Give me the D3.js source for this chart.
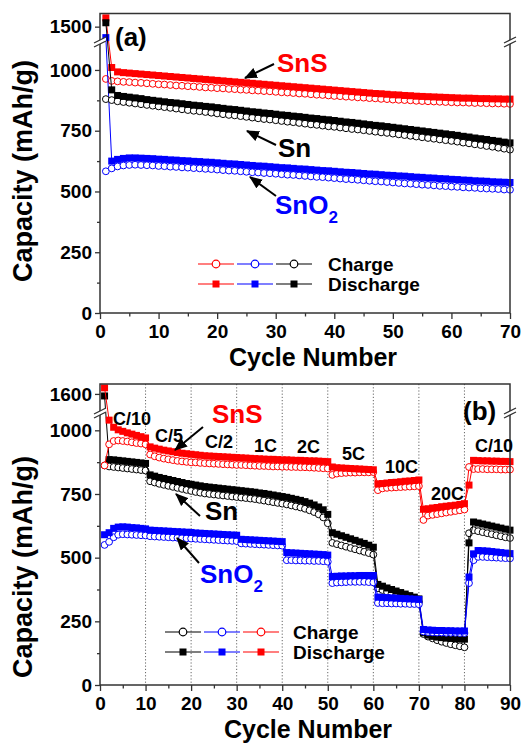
<!DOCTYPE html>
<html>
<head>
<meta charset="utf-8">
<script src="https://cdn.jsdelivr.net/npm/d3@7"></script>
<style>
body { margin: 0; background: #fff; }
text { font-family: "Liberation Sans", Arial, sans-serif; font-weight: bold; }
</style>
</head>
<body>
<svg id="fig" width="527" height="745"></svg>
<script>
// ---- panel (a): cycling at constant rate, cycle n = index + 1 ----
const aSnSDis = [1536, 1010, 992, 989, 987, 985, 983, 981, 979, 977,
  975, 973, 971, 969, 967, 965, 963, 961, 959, 957,
  955, 953, 951, 949, 947, 945, 943, 941, 939, 937,
  935, 933, 931, 929, 927, 925, 923, 921, 919, 917,
  915, 913, 911, 909, 907, 905, 903, 902, 900, 898,
  897, 895, 894, 892, 891, 890, 889, 888, 887, 886,
  885, 884, 884, 883, 882, 882, 881, 881, 880, 880];
const aSnSCh = [963, 955, 953, 951, 950, 948, 947, 945, 943, 941,
  940, 938, 936, 935, 933, 932, 930, 928, 927, 925,
  924, 922, 921, 919, 918, 916, 915, 913, 912, 910,
  908, 907, 905, 903, 902, 900, 898, 897, 895, 893,
  892, 890, 889, 887, 886, 884, 883, 881, 880, 878,
  877, 876, 875, 873, 872, 871, 870, 869, 868, 867,
  866, 866, 865, 864, 864, 863, 862, 862, 861, 860];
const aSnDis = [1516, 918, 895, 891, 888, 885, 882, 878, 875, 872,
  869, 866, 864, 861, 858, 855, 853, 850, 848, 845,
  842, 839, 837, 834, 831, 828, 826, 823, 821, 818,
  815, 813, 810, 808, 805, 802, 800, 797, 795, 792,
  789, 786, 784, 781, 778, 775, 772, 770, 767, 764,
  761, 758, 755, 752, 749, 746, 743, 740, 737, 734,
  731, 727, 724, 720, 717, 714, 710, 707, 703, 700];
const aSnCh = [880, 876, 871, 868, 865, 862, 859, 856, 853, 850,
  847, 844, 841, 838, 835, 832, 830, 827, 824, 821,
  818, 815, 813, 810, 807, 804, 801, 798, 796, 793,
  790, 787, 785, 782, 779, 776, 774, 771, 768, 766,
  763, 760, 757, 755, 752, 749, 746, 743, 741, 738,
  735, 732, 729, 726, 723, 720, 717, 714, 711, 708,
  705, 701, 698, 694, 691, 687, 684, 680, 676, 672];
const aSnO2Dis = [1455, 625, 632, 636, 638, 638, 637, 636, 635, 633,
  632, 630, 629, 627, 626, 624, 623, 621, 620, 618,
  616, 614, 613, 611, 609, 607, 605, 604, 602, 600,
  598, 597, 595, 593, 592, 590, 588, 586, 585, 583,
  581, 579, 578, 576, 574, 572, 571, 569, 567, 566,
  564, 563, 561, 559, 558, 556, 555, 553, 552, 550,
  549, 547, 546, 544, 543, 542, 540, 539, 538, 537];
const aSnO2Ch = [583, 595, 603, 607, 609, 610, 609, 608, 607, 605,
  604, 602, 601, 599, 598, 596, 595, 593, 592, 590,
  588, 586, 585, 583, 581, 579, 578, 576, 575, 573,
  571, 569, 568, 566, 564, 562, 560, 559, 557, 555,
  553, 551, 550, 548, 546, 544, 542, 541, 539, 537,
  535, 533, 532, 530, 528, 527, 525, 523, 522, 520,
  519, 517, 516, 515, 513, 512, 511, 510, 508, 507];

// ---- panel (b): rate capability, 10 cycles per rate ----
const bSnSDis = [1624, 1040, 1012, 1002, 996, 990, 985, 980, 975, 970,
  935, 930, 926, 922, 919, 916, 913, 910, 908, 906,
  904, 902, 900, 899, 898, 897, 896, 895, 894, 893,
  892, 891, 890, 889, 888, 887, 886, 886, 885, 884,
  884, 883, 882, 882, 881, 880, 880, 879, 878, 877,
  856, 853, 852, 851, 850, 849, 848, 847, 846, 845,
  790, 791, 793, 795, 796, 798, 800, 801, 803, 805,
  690, 692, 695, 697, 700, 702, 704, 706, 709, 712,
  785, 882, 881, 880, 880, 879, 879, 878, 878, 877];
const bSnSCh = [862, 945, 958, 960, 958, 956, 953, 950, 948, 945,
  905, 898, 893, 889, 886, 883, 880, 878, 876, 874,
  874, 872, 871, 870, 869, 868, 867, 866, 865, 864,
  864, 863, 862, 861, 860, 860, 859, 858, 858, 857,
  857, 856, 856, 855, 855, 854, 853, 852, 851, 850,
  825, 830, 832, 833, 834, 834, 835, 835, 835, 836,
  765, 772, 774, 775, 776, 777, 778, 779, 780, 781,
  648, 665, 668, 671, 674, 677, 680, 683, 686, 689,
  856, 848, 848, 848, 847, 847, 847, 846, 846, 846];
const bSnDis = [1592, 885, 884, 882, 880, 878, 876, 874, 872, 870,
  825, 820, 815, 811, 807, 803, 799, 795, 791, 788,
  785, 782, 779, 777, 775, 773, 771, 769, 767, 765,
  763, 761, 759, 757, 754, 752, 749, 746, 743, 740,
  737, 733, 729, 725, 720, 714, 707, 699, 688, 670,
  598, 592, 586, 580, 574, 568, 562, 556, 549, 541,
  395, 388, 381, 375, 369, 363, 357, 351, 345, 338,
  205, 196, 191, 188, 186, 184, 183, 182, 181, 180,
  558, 640, 636, 632, 628, 624, 620, 616, 612, 608];
const bSnCh = [862, 858, 856, 854, 852, 850, 848, 846, 844, 842,
  800, 795, 790, 786, 782, 778, 774, 770, 766, 762,
  758, 755, 752, 750, 748, 746, 744, 742, 740, 738,
  736, 734, 732, 730, 727, 724, 721, 718, 715, 712,
  709, 705, 701, 697, 692, 686, 679, 670, 658, 635,
  558, 553, 548, 543, 538, 533, 528, 523, 518, 512,
  380, 373, 366, 360, 354, 348, 342, 336, 330, 325,
  200, 190, 183, 176, 170, 165, 160, 156, 152, 148,
  596, 608, 604, 600, 596, 592, 588, 584, 580, 577];
const bSnO2Dis = [590, 598, 615, 620, 621, 620, 618, 617, 615, 613,
  608, 607, 606, 605, 604, 603, 602, 601, 600, 599,
  597, 596, 595, 594, 593, 592, 591, 590, 589, 588,
  572, 571, 570, 569, 568, 567, 566, 565, 564, 563,
  520, 519, 518, 517, 516, 515, 514, 513, 512, 510,
  426, 427, 428, 428, 429, 429, 430, 430, 430, 430,
  345, 344, 343, 342, 341, 340, 339, 338, 337, 336,
  218, 216, 215, 214, 214, 213, 213, 212, 212, 212,
  424, 515, 528, 527, 526, 524, 522, 520, 518, 516];
const bSnO2Ch = [550, 562, 580, 590, 592, 591, 590, 589, 588, 587,
  584, 583, 582, 581, 580, 579, 578, 577, 576, 575,
  574, 573, 572, 571, 570, 569, 568, 567, 566, 565,
  556, 555, 554, 553, 552, 551, 550, 549, 548, 547,
  490, 490, 489, 489, 488, 488, 487, 487, 486, 484,
  400, 402, 403, 404, 405, 405, 405, 405, 404, 403,
  322, 321, 321, 320, 320, 319, 319, 318, 318, 317,
  210, 208, 207, 206, 206, 205, 205, 205, 204, 204,
  400, 490, 503, 503, 502, 501, 500, 499, 498, 497];

const rateLabels = ["C/10", "C/5", "C/2", "1C", "2C", "5C", "10C", "20C", "C/10"];
const yTicks = [0, 250, 500, 750, 1000];
const yMinor = [125, 375, 625, 875];

const red = "#ff0000", blue = "#0000ff", black = "#000000";
const svg = d3.select("#fig");

svg.append("defs").append("marker")
  .attr("id", "arrow").attr("markerUnits", "userSpaceOnUse")
  .attr("viewBox", "0 0 12 10").attr("refX", 11).attr("refY", 5)
  .attr("markerWidth", 13).attr("markerHeight", 11).attr("orient", "auto")
  .append("path").attr("d", "M0,0 L12,5 L0,10 z").attr("fill", "#000");

function drawPanel(p) {
  let g = svg.append("g");
  let x = d3.scaleLinear().domain([0, p.xmax]).range([100, 510]);
  let yLo = d3.scaleLinear().domain([0, p.loMax]).range([p.bottom, p.brk]);
  let yHi = d3.scaleLinear().domain(p.hiDomain).range([p.brk, p.top]);
  let y = v => v > p.loMax ? yHi(v) : yLo(v);

  // dotted rate separators
  if (p.grid) {
    g.selectAll(".grid").data(p.grid).enter().append("line")
      .attr("x1", d => x(d)).attr("x2", d => x(d))
      .attr("y1", p.top).attr("y2", p.bottom)
      .attr("stroke", "#666").attr("stroke-width", 1).attr("stroke-dasharray", "1.2,2");
  }

  let line = d3.line().x((d, i) => x(i + 1)).y(d => y(d));
  for (let s of p.series) {
    g.append("path").attr("d", line(s.ch)).attr("fill", "none")
      .attr("stroke", s.color).attr("stroke-width", 1);
    g.selectAll(null).data(s.ch).enter().append("circle")
      .attr("cx", (d, i) => x(i + 1)).attr("cy", d => y(d)).attr("r", 3.4)
      .attr("fill", "#fff").attr("stroke", s.color).attr("stroke-width", 1);
    g.append("path").attr("d", line(s.dis)).attr("fill", "none")
      .attr("stroke", s.color).attr("stroke-width", 1);
    g.selectAll(null).data(s.dis).enter().append("rect")
      .attr("x", (d, i) => x(i + 1) - 3.5).attr("y", d => y(d) - 3.5)
      .attr("width", 7).attr("height", 7).attr("fill", s.color);
  }

  // frame
  g.append("rect").attr("x", 100).attr("y", p.top).attr("width", 410)
    .attr("height", p.bottom - p.top).attr("fill", "none")
    .attr("stroke", "#333").attr("stroke-width", 1.5);

  // axis break marks
  for (let ax of [100, 510]) {
    g.append("path")
      .attr("d", `M${ax - 6},${p.brk + 1} L${ax + 6},${p.brk - 5} L${ax + 6},${p.brk - 1} L${ax - 6},${p.brk + 5} Z`)
      .attr("fill", "#fff");
    g.append("path")
      .attr("d", `M${ax - 6},${p.brk + 1} L${ax + 6},${p.brk - 5} M${ax - 6},${p.brk + 5} L${ax + 6},${p.brk - 1}`)
      .attr("stroke", "#333").attr("stroke-width", 1.3);
  }

  // axes
  let fmt = d3.format("d");
  let xMaj = d3.range(0, p.xmax + 1, 10);
  let xMin = d3.range(5, p.xmax, 10);
  let ax = g.append("g").attr("transform", `translate(0,${p.bottom})`)
    .call(d3.axisBottom(x).tickValues(xMaj).tickSize(6).tickFormat(fmt));
  ax.selectAll("text").attr("dy", null).attr("y", 25);
  g.append("g").attr("transform", `translate(0,${p.bottom})`)
    .call(d3.axisBottom(x).tickValues(xMin).tickSize(3.5).tickFormat(""));

  g.append("g").attr("transform", "translate(100,0)")
    .call(d3.axisLeft(yLo).tickValues(yTicks).tickSize(5).tickPadding(3).tickFormat(fmt));
  g.append("g").attr("transform", "translate(100,0)")
    .call(d3.axisLeft(yLo).tickValues(yMinor).tickSize(3).tickFormat(""));
  g.append("g").attr("transform", "translate(100,0)")
    .call(d3.axisLeft(yHi).tickValues(p.hiTicks).tickSize(5).tickPadding(3).tickFormat(fmt));

  g.selectAll(".domain").remove();
  g.selectAll(".tick line").attr("stroke", "#333").attr("stroke-width", 1.3);
  g.selectAll(".tick text").attr("font-size", 19).attr("fill", "#000")
    .attr("font-family", "'Liberation Sans', Arial, sans-serif").attr("font-weight", "bold");

  g.append("text").attr("x", p.xlabX).attr("y", p.bottom + 53)
    .attr("text-anchor", "middle").attr("font-size", 25).text("Cycle Number");
  g.append("text").attr("transform", `translate(32,${p.ylabY}) rotate(-90)`)
    .attr("text-anchor", "middle").attr("font-size", 27).text("Capacity (mAh/g)");

  // legend
  let lg = g.append("g");
  let rowGap = 20;
  p.legend.forEach((c, k) => {
    let x0 = p.legX + k * 39;
    [p.legY, p.legY + rowGap].forEach((ly, r) => {
      lg.append("line").attr("x1", x0).attr("x2", x0 + 36).attr("y1", ly).attr("y2", ly)
        .attr("stroke", c).attr("stroke-width", 1.2);
      if (r == 0) {
        lg.append("circle").attr("cx", x0 + 18).attr("cy", ly).attr("r", 3.8)
          .attr("fill", "#fff").attr("stroke", c).attr("stroke-width", 1.2);
      } else {
        lg.append("rect").attr("x", x0 + 14.5).attr("y", ly - 3.5).attr("width", 7).attr("height", 7).attr("fill", c);
      }
    });
  });
  lg.append("text").attr("x", p.legTextX).attr("y", p.legY + 7).attr("font-size", 19).text("Charge");
  lg.append("text").attr("x", p.legTextX).attr("y", p.legY + rowGap + 7).attr("font-size", 19).text("Discharge");

  // annotations
  g.append("text").attr("x", p.tag[0]).attr("y", p.tag[1]).attr("font-size", 26).text(p.tag[2]);
  for (let a of p.notes) {
    let t = g.append("text").attr("x", a.x).attr("y", a.y).attr("font-size", 26)
      .attr("fill", a.color).text(a.text);
    if (a.sub) t.append("tspan").attr("font-size", 17).attr("dy", 9).text(a.sub);
    g.append("line").attr("x1", a.arrow[0]).attr("y1", a.arrow[1])
      .attr("x2", a.arrow[2]).attr("y2", a.arrow[3])
      .attr("stroke", "#000").attr("stroke-width", 2).attr("marker-end", "url(#arrow)");
  }
  if (p.rates) {
    g.selectAll(".rate").data(p.rates).enter().append("text")
      .attr("x", d => d[0]).attr("y", d => d[1]).attr("font-size", 18).text((d, i) => rateLabels[i]);
  }
}

drawPanel({
  xmax: 70, top: 13.5, bottom: 313, brk: 42, loMax: 1115, hiDomain: [1437, 1554], hiTicks: [1500],
  series: [
    { color: red, ch: aSnSCh, dis: aSnSDis },
    { color: blue, ch: aSnO2Ch, dis: aSnO2Dis },
    { color: black, ch: aSnCh, dis: aSnDis }
  ],
  xlabX: 313, ylabY: 171,
  legend: [red, blue, black], legX: 198, legY: 264, legTextX: 328,
  tag: [115, 46, "(a)"],
  notes: [
    { text: "SnS", x: 277, y: 72, color: red, arrow: [274, 64, 245, 78] },
    { text: "Sn", x: 278, y: 157, color: black, arrow: [276, 145, 247, 131] },
    { text: "SnO", sub: "2", x: 275, y: 214, color: blue, arrow: [276, 196, 250, 177] }
  ]
});

drawPanel({
  xmax: 90, top: 384, bottom: 685, brk: 413, loMax: 1068, hiDomain: [1525, 1639], hiTicks: [1600],
  grid: [10, 20, 30, 40, 50, 60, 70, 80],
  series: [
    { color: black, ch: bSnCh, dis: bSnDis },
    { color: blue, ch: bSnO2Ch, dis: bSnO2Dis },
    { color: red, ch: bSnSCh, dis: bSnSDis }
  ],
  xlabX: 308, ylabY: 567,
  legend: [black, blue, red], legX: 165, legY: 632, legTextX: 293,
  tag: [463, 420, "(b)"],
  notes: [
    { text: "SnS", x: 212, y: 423, color: red, arrow: [203, 427, 175, 450] },
    { text: "Sn", x: 205, y: 520, color: black, arrow: [200, 516, 176, 494] },
    { text: "SnO", sub: "2", x: 200, y: 583, color: blue, arrow: [199, 563, 177, 538] }
  ],
  rates: [[113, 425], [155, 442], [205, 448], [254, 452], [297, 453], [342, 460], [385, 473], [431, 500], [475, 452]]
});
</script>
</body>
</html>
